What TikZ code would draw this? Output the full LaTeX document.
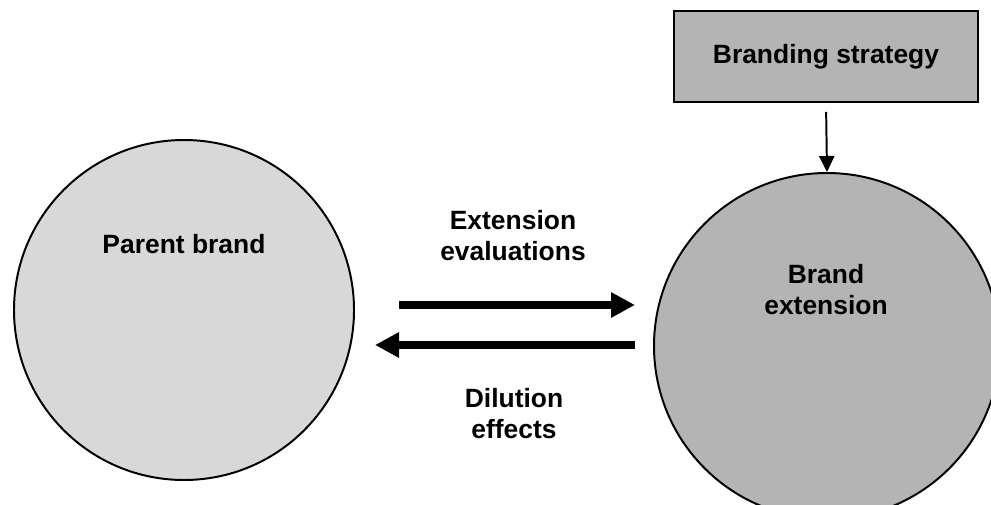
\documentclass[tikz,border=0pt]{standalone}
\usepackage{fontspec}
\setmainfont{Liberation Sans}
\usetikzlibrary{arrows.meta}
\usetikzlibrary{positioning}

\definecolor{parentgray}{HTML}{D8D8D8}
\definecolor{extgray}{HTML}{B4B4B4}

\tikzset{
    txt/.style={font=\fontsize{18.8}{22}\selectfont\bfseries, align=center, inner sep=0pt},
    brandcircle/.style={circle, draw=black, line width=1.4pt, inner sep=0pt},
    bigarrow/.style={line width=0.2cm, -{Triangle[length=0.6cm,width=0.6cm]}},
}

\begin{document}
\begin{tikzpicture}
    	\useasboundingbox (0,0) rectangle (24.775,12.6);
    	\clip (0,0) rectangle (24.775,12.6);

    	\node[brandcircle, fill=parentgray, minimum size=8.5cm] (parent) at (4.6,4.85) {};
    	\node[brandcircle, fill=extgray, minimum size=8.65cm] (extension) at (20.675,3.95) {};
    	\node[draw=black, line width=1.4pt, fill=extgray, minimum width=7.6cm, minimum height=2.275cm] (strategy) at (20.65,11.19) {};

    	\node[txt] (parenttxt) at (4.6,6.5) {Parent brand};
    	\node[txt] (extensiontxt) at (20.65,5.35) {Brand\\extension};
    	\node[txt] (strategytxt) at (strategy.center) {Branding strategy};

    	\draw[line width=1.4pt, -{Triangle[length=0.4cm,width=0.38cm]}, shorten <=0.225cm] (strategy.south) -- (extension.north);

    	\coordinate (evalstart) at (9.975,4.975);
    	\coordinate (evalend) at (15.875,4.975);
    	\coordinate (dilstart) at (15.875,3.975);
    	\coordinate (dilend) at (9.375,3.975);
    	\draw[bigarrow] (evalstart) -- (evalend);
    	\draw[bigarrow] (dilstart) -- (dilend);

    	\node[txt] (evaltxt) at (12.825,6.7) {Extension\\evaluations};
    	\node[txt] (diltxt) at (12.85,2.25) {Dilution\\effects};
    \end{tikzpicture}
\end{document}
